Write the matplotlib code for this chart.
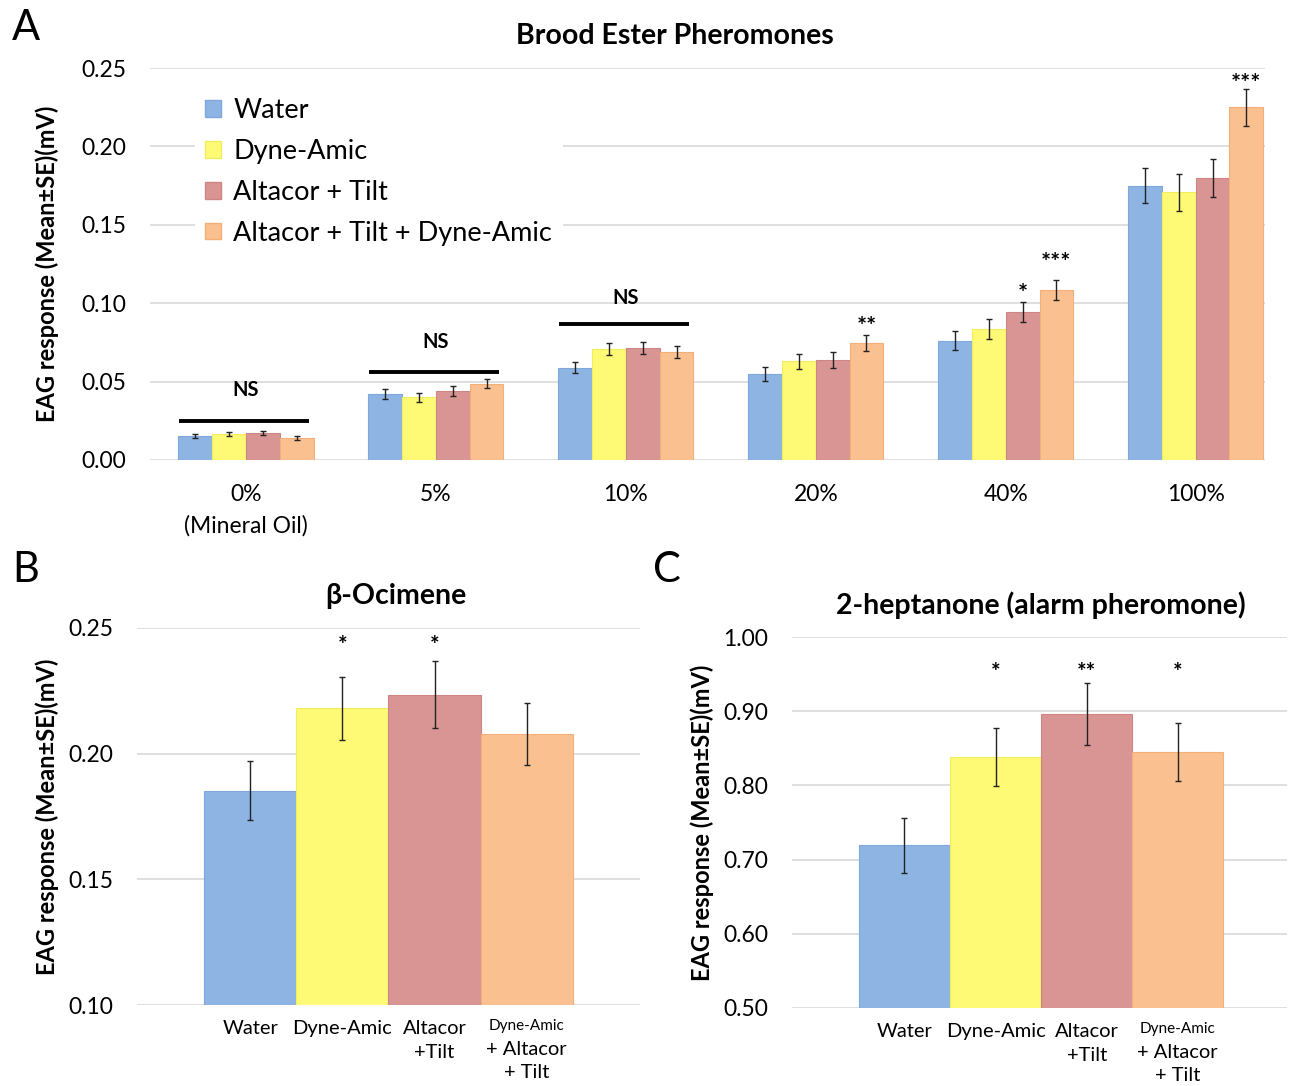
import numpy as np
import matplotlib
matplotlib.use("Agg")
import matplotlib.pyplot as plt
from matplotlib.patches import Patch

plt.rcParams['font.family'] = ['Lato', 'DejaVu Sans']

treatments = ['Water', 'Dyne-Amic', 'Altacor + Tilt', 'Altacor + Tilt + Dyne-Amic']
colors = ['#8EB4E3', '#FFFA75', '#D99594', '#FAC090']
edges = ['#7FA7DC', '#F2EC60', '#CE8584', '#F4AE78']

# panel A: brood ester pheromone doses
doses = ['0%\n(Mineral Oil)', '5%', '10%', '20%', '40%', '100%']
water = [0.0153, 0.042, 0.0587, 0.055, 0.0761, 0.175]
dyne = [0.0166, 0.040, 0.0708, 0.0629, 0.0835, 0.1707]
altacor = [0.0174, 0.044, 0.0715, 0.0637, 0.0944, 0.1797]
combo = [0.0140, 0.0487, 0.069, 0.0746, 0.1085, 0.225]
water_se = [0.0015, 0.0032, 0.0035, 0.0044, 0.006, 0.011]
dyne_se = [0.0015, 0.003, 0.0037, 0.005, 0.0063, 0.0118]
altacor_se = [0.0014, 0.003, 0.0038, 0.0052, 0.0065, 0.012]
combo_se = [0.0012, 0.003, 0.0037, 0.0049, 0.0064, 0.0117]
ns_groups = [0, 1, 2]
ns_line_y = [0.0249, 0.0561, 0.0868]
ns_text_y = [0.0447, 0.0753, 0.1034]
# (dose index, treatment index, label, y)
stars_a = [(3, 3, '**', 0.0845), (4, 2, '*', 0.1055), (4, 3, '***', 0.1255), (5, 3, '***', 0.2395)]

# panel B: beta-ocimene
ocimene = [0.1853, 0.218, 0.2235, 0.2078]
ocimene_se = [0.0117, 0.0125, 0.0134, 0.0123]
ocimene_stars = ['', '*', '*', '']

# panel C: 2-heptanone
heptanone = [0.7195, 0.838, 0.896, 0.845]
heptanone_se = [0.037, 0.0394, 0.042, 0.039]
heptanone_stars = ['', '*', '**', '*']

short_labels = ['Water', 'Dyne-Amic', 'Altacor\n+Tilt', '']

fig = plt.figure(figsize=(12.93, 10.86), dpi=100)
grid_c = '#D9D9D9'
tick_fs = 16.5
ylab = 'EAG response (Mean±SE)(mV)'


def style_axes(ax):
    for s in ax.spines.values():
        s.set_visible(False)
    ax.yaxis.grid(True, color=grid_c, linewidth=1.2)
    ax.set_axisbelow(True)
    ax.tick_params(length=0, labelsize=tick_fs, pad=10)


# ---- A ----
axA = fig.add_axes([150 / 1293, 1 - 460 / 1086, 1115 / 1293, 392 / 1086])
style_axes(axA)
x = np.arange(len(doses))
w = 0.178
series = [water, dyne, altacor, combo]
errs = [water_se, dyne_se, altacor_se, combo_se]
for i in range(4):
    pos = x + (i - 1.5) * w
    axA.bar(pos, series[i], w, color=colors[i], edgecolor=edges[i], linewidth=0.8,
            label=treatments[i])
    axA.errorbar(pos, series[i], yerr=errs[i], fmt='none', ecolor='#222222',
                 elinewidth=1, capsize=2.5, capthick=1)
for g, ly, ty in zip(ns_groups, ns_line_y, ns_text_y):
    axA.plot([g - 0.35, g + 0.33], [ly, ly], color='black', linewidth=2.8, solid_capstyle='butt')
    axA.text(g, ty, 'NS', ha='center', va='center', fontsize=14.5, fontweight='bold')
for d, t, lab, yy in stars_a:
    axA.text(d + (t - 1.5) * w, yy, lab, ha='center', va='center', fontsize=17, fontweight='bold')
axA.set_ylim(0, 0.25)
axA.set_xlim(-0.505, 5.365)
axA.set_yticks(np.arange(0, 0.251, 0.05))
axA.set_yticklabels([f'{v:.2f}' for v in np.arange(0, 0.251, 0.05)])
axA.set_xticks(x)
axA.set_xticklabels(doses, linespacing=1.6)
axA.tick_params(axis='x', pad=17)
axA.tick_params(axis='y', pad=17)
fig.text(675 / 1293, 1 - 36 / 1086, 'Brood Ester Pheromones', fontsize=20.5, fontweight='bold',
         ha='center', va='center')
axA.set_ylabel(ylab, fontsize=17, fontweight='bold', labelpad=16)
handles = [Patch(facecolor=colors[i], edgecolor=edges[i], label=treatments[i]) for i in range(4)]
leg = axA.legend(handles=handles, loc='upper left', bbox_to_anchor=(0.04, 0.95), fontsize=19.5,
                 frameon=True, handlelength=0.58, handleheight=0.58, handletextpad=0.45,
                 labelspacing=0.58, borderpad=0.4, borderaxespad=0)
leg.get_frame().set_facecolor('white')
leg.get_frame().set_edgecolor('none')
leg.get_frame().set_alpha(1)


def small_panel(rect, vals, se, stars, ylim, yticks, title, title_x, star_y):
    ax = fig.add_axes(rect)
    style_axes(ax)
    xs = np.arange(4)
    ax.bar(xs, vals, 1.0, color=colors, edgecolor=edges, linewidth=0.8)
    ax.errorbar(xs, vals, yerr=se, fmt='none', ecolor='#222222', elinewidth=1,
                capsize=2.5, capthick=1)
    for xi, s in zip(xs, stars):
        if s:
            ax.text(xi, star_y, s, ha='center', va='center', fontsize=16, fontweight='bold')
    ax.set_ylim(*ylim)
    ax.set_yticks(yticks)
    ax.set_yticklabels([f'{v:.2f}' for v in yticks])
    ax.tick_params(axis='y', pad=17)
    ax.set_xticks(xs)
    ax.set_xticklabels(short_labels, fontsize=14.5, linespacing=1.5)
    ax.tick_params(axis='x', pad=11)
    tr = ax.get_xaxis_transform()
    ax.annotate('Dyne-Amic', xy=(3, 0), xycoords=tr, xytext=(0, -10), textcoords='offset points',
                ha='center', va='top', fontsize=11)
    ax.annotate('+ Altacor\n+ Tilt', xy=(3, 0), xycoords=tr, xytext=(0, -26),
                textcoords='offset points', ha='center', va='top', fontsize=14.5, linespacing=1.45)
    fig.text(title_x, rect[1] + rect[3] + 32 / 1086, title, fontsize=20.5, fontweight='bold',
             ha='center', va='center')
    ax.set_ylabel(ylab, fontsize=17, fontweight='bold', labelpad=7)
    return ax


axB = small_panel([137 / 1293, 1 - 1005 / 1086, 503 / 1293, 377 / 1086], ocimene, ocimene_se,
                  ocimene_stars, (0.10, 0.25), [0.10, 0.15, 0.20, 0.25], 'β-Ocimene',
                  396 / 1293, 0.2432)
axB.set_xlim(-1.23, 4.23)

axC = small_panel([792 / 1293, 1 - 1008 / 1086, 495 / 1293, 371 / 1086], heptanone, heptanone_se,
                  heptanone_stars, (0.50, 1.00), [0.50, 0.60, 0.70, 0.80, 0.90, 1.00],
                  '2-heptanone (alarm pheromone)', 1041 / 1293, 0.952)
axC.set_xlim(-1.235, 4.2)

fig.text(12 / 1293, 1 - 28 / 1086, 'A', fontsize=30, va='center', ha='left')
fig.text(12 / 1293, 1 - 570 / 1086, 'B', fontsize=30, va='center', ha='left')
fig.text(653 / 1293, 1 - 570 / 1086, 'C', fontsize=30, va='center', ha='left')

fig.savefig('out.png', dpi=100, facecolor='white')
